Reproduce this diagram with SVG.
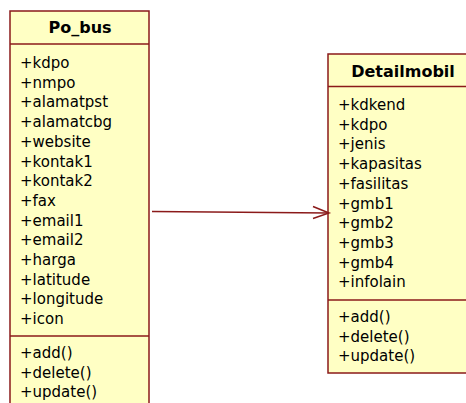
<svg xmlns="http://www.w3.org/2000/svg" width="466" height="403" viewBox="0 0 466 403">
<style>
.box{fill:#FFFFC4;stroke:#8B1A1A;stroke-width:1.5}
.sep{stroke:#8B1A1A;stroke-width:1.5}
.t{font-family:"DejaVu Sans",Verdana,sans-serif;font-size:15px;fill:#000}
.h{font-family:"DejaVu Sans",Verdana,sans-serif;font-size:16px;font-weight:bold;fill:#000;text-anchor:middle}
.c{stroke:#8B1A1A;stroke-width:1.5;fill:none}
</style>
<rect width="466" height="403" fill="#fff"/>
<g id="po_bus">
<rect class="box" x="10" y="11" width="139" height="400"/>
<line class="sep" x1="10" y1="44" x2="149" y2="44"/>
<line class="sep" x1="10" y1="336" x2="149" y2="336"/>
<text class="h" x="80" y="33">Po_bus</text>
<text class="t" x="20" y="68">+kdpo</text>
<text class="t" x="20" y="87.7">+nmpo</text>
<text class="t" x="20" y="107.4">+alamatpst</text>
<text class="t" x="20" y="127.1">+alamatcbg</text>
<text class="t" x="20" y="146.8">+website</text>
<text class="t" x="20" y="166.5">+kontak1</text>
<text class="t" x="20" y="186.2">+kontak2</text>
<text class="t" x="20" y="205.9">+fax</text>
<text class="t" x="20" y="225.6">+email1</text>
<text class="t" x="20" y="245.3">+email2</text>
<text class="t" x="20" y="265">+harga</text>
<text class="t" x="20" y="284.7">+latitude</text>
<text class="t" x="20" y="304.4">+longitude</text>
<text class="t" x="20" y="324.1">+icon</text>
<text class="t" x="20" y="358">+add()</text>
<text class="t" x="20" y="377.7">+delete()</text>
<text class="t" x="20" y="397.4">+update()</text>
</g>
<g id="detailmobil">
<rect class="box" x="328" y="54" width="150" height="319"/>
<line class="sep" x1="328" y1="86.5" x2="478" y2="86.5"/>
<line class="sep" x1="328" y1="300" x2="478" y2="300"/>
<text class="h" x="403" y="77">Detailmobil</text>
<text class="t" x="338" y="110">+kdkend</text>
<text class="t" x="338" y="129.7">+kdpo</text>
<text class="t" x="338" y="149.4">+jenis</text>
<text class="t" x="338" y="169.1">+kapasitas</text>
<text class="t" x="338" y="188.8">+fasilitas</text>
<text class="t" x="338" y="208.5">+gmb1</text>
<text class="t" x="338" y="228.2">+gmb2</text>
<text class="t" x="338" y="247.9">+gmb3</text>
<text class="t" x="338" y="267.6">+gmb4</text>
<text class="t" x="338" y="287.3">+infolain</text>
<text class="t" x="338" y="322">+add()</text>
<text class="t" x="338" y="341.7">+delete()</text>
<text class="t" x="338" y="361.4">+update()</text>
</g>
<g id="connectors">
<line class="c" x1="152" y1="211.5" x2="329" y2="213"/>
<polyline class="c" points="313,206.5 329,213 313,218.5"/>
</g>
</svg>
